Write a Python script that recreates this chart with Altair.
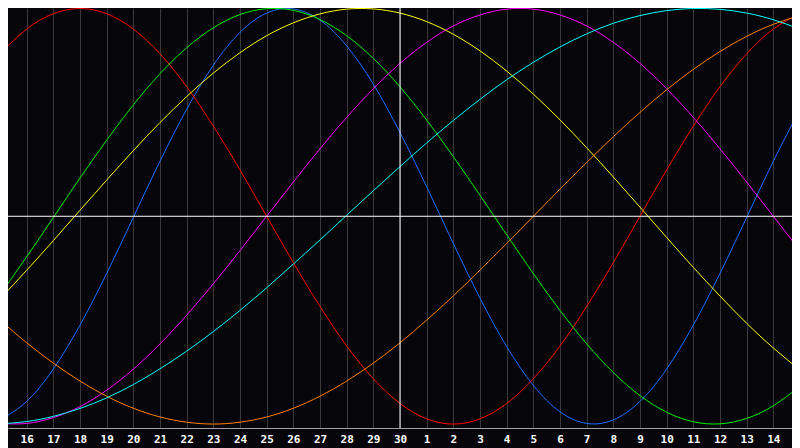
import altair as alt
import pandas as pd

# day labels along the bottom (index 0 = left edge, 30 = right edge)
days = [15, 16, 17, 18, 19, 20, 21, 22, 23, 24, 25, 26, 27, 28, 29, 30,
        1, 2, 3, 4, 5, 6, 7, 8, 9, 10, 11, 12, 13, 14, 15]
today_idx = [15]

series_names = ["Physical", "Emotional", "Intellectual", "Intuitive",
                "Aesthetic", "Awareness", "Spiritual"]
colors = ["#1a6cff", "#ff0000", "#00ee00", "#ff00ff",
          "#ffff00", "#ff8000", "#00ffff"]

# values, one per day
physical = [-0.980, -0.891, -0.735, -0.524, -0.275, -0.005, 0.265, 0.515, 0.727, 0.885,
            0.978, 0.998, 0.944, 0.820, 0.636, 0.403, 0.142, -0.131, -0.394, -0.627,
            -0.814, -0.941, -0.997, -0.980, -0.891, -0.735, -0.524, -0.275, -0.005, 0.265,
            0.515]
emotional = [0.782, 0.901, 0.975, 1.000, 0.975, 0.901, 0.782, 0.624, 0.434, 0.223,
             0.000, -0.223, -0.434, -0.624, -0.782, -0.901, -0.975, -1.000, -0.975, -0.901,
             -0.782, -0.624, -0.434, -0.223, 0.000, 0.223, 0.434, 0.624, 0.782, 0.901,
             0.975]
intellectual = [-0.377, -0.195, -0.006, 0.184, 0.366, 0.536, 0.686, 0.811, 0.907, 0.971,
                0.999, 0.991, 0.947, 0.869, 0.760, 0.623, 0.463, 0.287, 0.101, -0.089,
                -0.276, -0.453, -0.614, -0.752, -0.863, -0.943, -0.989, -0.999, -0.973, -0.912,
                -0.818]
intuitive = [-0.997, -0.997, -0.969, -0.916, -0.837, -0.736, -0.614, -0.476, -0.325, -0.165,
             0.000, 0.165, 0.325, 0.476, 0.614, 0.736, 0.837, 0.916, 0.969, 0.997,
             0.997, 0.969, 0.916, 0.837, 0.736, 0.614, 0.476, 0.325, 0.165, 0.000,
             -0.165]
aesthetic = [-0.398, -0.260, -0.117, 0.029, 0.174, 0.316, 0.451, 0.576, 0.689, 0.787,
             0.869, 0.931, 0.974, 0.997, 0.998, 0.978, 0.937, 0.876, 0.796, 0.699,
             0.588, 0.464, 0.330, 0.189, 0.044, -0.102, -0.246, -0.384, -0.515, -0.634,
             -0.740]
awareness = [-0.500, -0.609, -0.707, -0.793, -0.866, -0.924, -0.966, -0.991, -1.000, -0.991,
             -0.966, -0.924, -0.866, -0.793, -0.707, -0.609, -0.500, -0.383, -0.259, -0.131,
             0.000, 0.131, 0.259, 0.383, 0.500, 0.609, 0.707, 0.793, 0.866, 0.924,
             0.966]
spiritual = [-0.999, -0.988, -0.963, -0.925, -0.874, -0.810, -0.734, -0.649, -0.555, -0.453,
             -0.344, -0.230, -0.114, 0.005, 0.123, 0.239, 0.353, 0.461, 0.563, 0.657,
             0.741, 0.815, 0.878, 0.929, 0.966, 0.990, 1.000, 0.996, 0.978, 0.946,
             0.901]

all_series = [physical, emotional, intellectual, intuitive,
              aesthetic, awareness, spiritual]

rows = []
for name, vals in zip(series_names, all_series):
    for i, v in enumerate(vals):
        rows.append({"t": i, "v": v, "series": name})
df = pd.DataFrame(rows)

BG = "#06060a"
# the page leaves 784px of width, so show day-index 0.3 .. 29.7 at 26.67 px/day
x_enc = alt.X("t:Q", scale=alt.Scale(domain=[0.3, 29.7], nice=False, zero=False),
              axis=alt.Axis(values=list(range(1, 30)), tickCount=40,
                            labelExpr=f"{days}[datum.value]",
                            grid=True, gridColor="#3a3a3a", gridWidth=1,
                            tickSize=0, domainColor="#a0a0a0",
                            labelColor="#ffffff", labelFont="DejaVu Sans Mono",
                            labelFontWeight="bold", labelFontSize=11,
                            labelPadding=5, labelFlush=False, labelOverlap=False,
                            title=None))
y_scale = alt.Scale(domain=[-1.019, 1.0024], nice=False, zero=False)

lines = (
    alt.Chart(df)
    .mark_line(strokeWidth=1, interpolate="natural")
    .encode(
        x=x_enc,
        y=alt.Y("v:Q", scale=y_scale, axis=None),
        color=alt.Color("series:N",
                        scale=alt.Scale(domain=series_names, range=colors),
                        legend=None),
        detail="series:N",
    )
)

zero_line = (
    alt.Chart(pd.DataFrame({"v": [0]}))
    .mark_rule(color="#ffffff", strokeWidth=1)
    .encode(y=alt.Y("v:Q", scale=y_scale, axis=None))
)

today_line = (
    alt.Chart(pd.DataFrame({"t": today_idx}))
    .mark_rule(color="#ffffff", strokeWidth=1)
    .encode(x="t:Q")
)

chart = (
    alt.layer(lines, zero_line, today_line)
    .properties(width=784, height=420, autosize="none",
                padding={"left": 0, "top": 0, "right": 0, "bottom": 20},
                background=BG)
    .configure_view(strokeWidth=0, fill=BG)
)

chart.save("out.html", embed_options={"renderer": "svg", "actions": False})
